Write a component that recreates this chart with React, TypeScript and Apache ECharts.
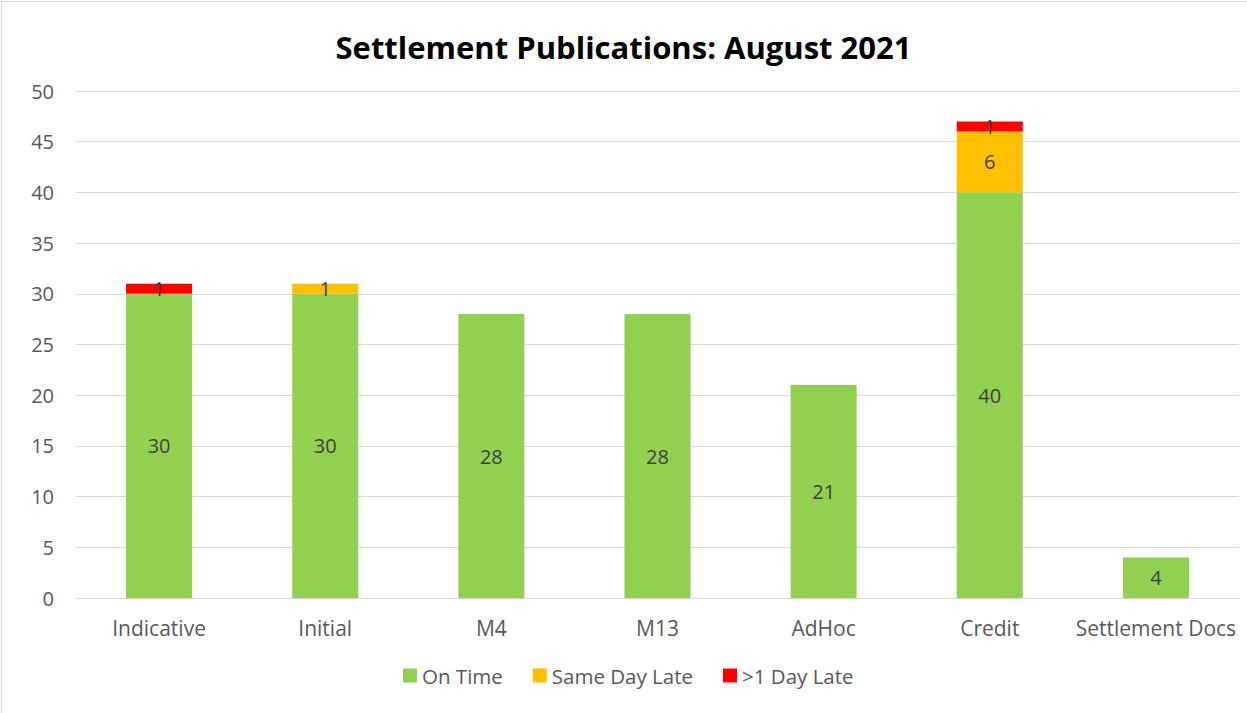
import React, { useEffect, useRef } from "react";
import * as echarts from "echarts";

const categories = ["Indicative", "Initial", "M4", "M13", "AdHoc", "Credit", "Settlement Docs"];
const onTime = [30, 30, 28, 28, 21, 40, 4];
const sameDayLate = [0, 1, 0, 0, 0, 6, 0];
const overOneDayLate = [1, 0, 0, 0, 0, 1, 0];
const seriesNames = ["On Time", "Same Day Late", ">1 Day Late"];
const colors = ["#92D050", "#FFC000", "#FF0000"];

const FONT = "'Open Sans', 'Noto Sans', sans-serif";

export default function App() {
  const ref = useRef<HTMLDivElement>(null);
  useEffect(() => {
    document.body.style.margin = "0";
    const chart = echarts.init(ref.current!, null, { renderer: "svg" });
    const mkSeries = (name: string, data: number[], color: string) => ({
      name,
      type: "bar",
      stack: "total",
      data,
      barWidth: 66,
      itemStyle: { color },
      label: {
        show: true,
        position: "inside",
        color: "#404040",
        fontFamily: FONT,
        fontSize: 20,
        formatter: (p: any) => (p.value ? String(p.value) : ""),
      },
    });
    chart.setOption({
      animation: false,
      backgroundColor: "#ffffff",
      title: {
        text: "Settlement Publications: August 2021",
        left: "center",
        top: 26,
        textStyle: { fontFamily: FONT, fontSize: 31, fontWeight: "bold", color: "#000000" },
      },
      grid: { left: 76, right: 8, top: 91, bottom: 115 },
      legend: {
        bottom: 22,
        left: 398,
        icon: "rect",
        itemWidth: 14,
        itemHeight: 14,
        itemGap: 30,
        textStyle: { fontFamily: FONT, fontSize: 20.5, color: "#595959" },
        data: seriesNames,
      },
      xAxis: {
        type: "category",
        data: categories,
        axisLine: { lineStyle: { color: "#d9d9d9", width: 1 } },
        axisTick: { show: false },
        axisLabel: { interval: 0, fontFamily: FONT, fontSize: 21, color: "#595959", margin: 19 },
      },
      yAxis: {
        type: "value",
        min: 0,
        max: 50,
        interval: 5,
        axisLine: { show: false },
        axisTick: { show: false },
        splitLine: { lineStyle: { color: "#d9d9d9", width: 1 } },
        axisLabel: { fontFamily: FONT, fontSize: 20, color: "#595959", margin: 22 },
      },
      graphic: [
        { type: "line", shape: { x1: 1.5, y1: 1, x2: 1.5, y2: 713 }, style: { stroke: "#d9d9d9", lineWidth: 1 } },
        { type: "line", shape: { x1: 1, y1: 1.5, x2: 1247, y2: 1.5 }, style: { stroke: "#d9d9d9", lineWidth: 1 } },
      ],
      series: [
        mkSeries(seriesNames[0], onTime, colors[0]),
        mkSeries(seriesNames[1], sameDayLate, colors[1]),
        mkSeries(seriesNames[2], overOneDayLate, colors[2]),
      ],
    });
    return () => chart.dispose();
  }, []);
  return <div ref={ref} style={{ position: "absolute", left: 0, top: 0, width: 1247, height: 713 }} />;
}
